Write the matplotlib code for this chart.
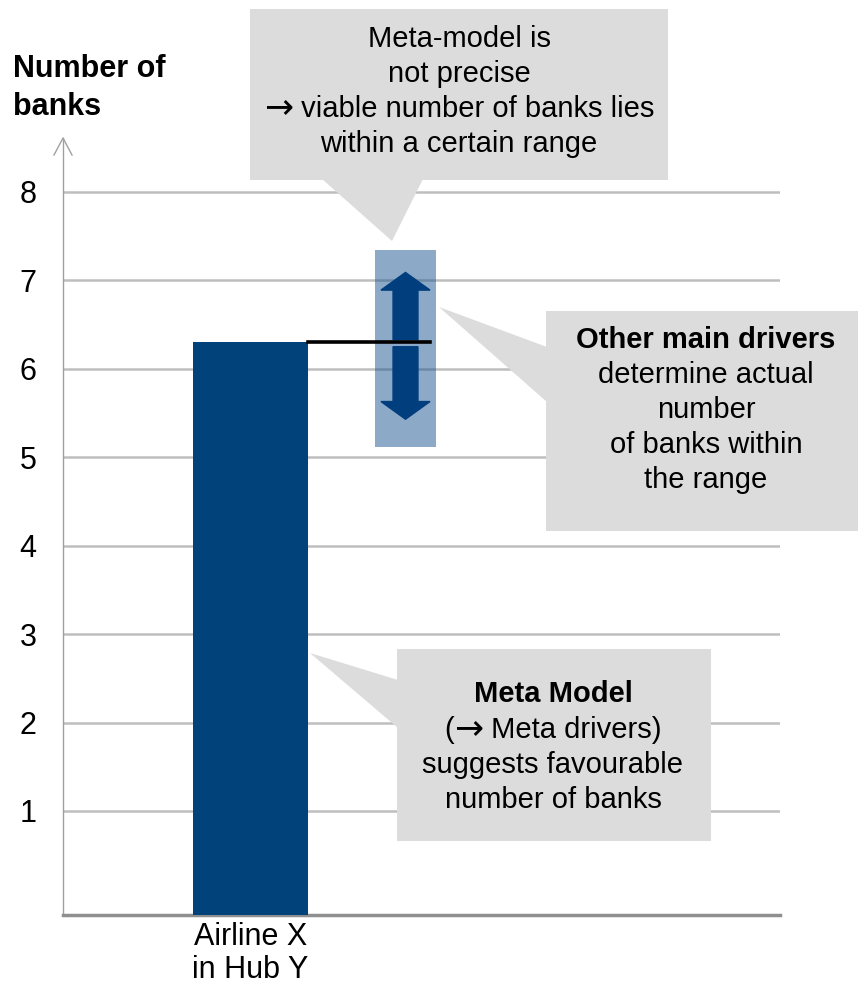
import matplotlib
matplotlib.use("Agg")
import matplotlib.pyplot as plt
from matplotlib.patches import Rectangle, Polygon, FancyArrow

plt.rcParams['font.family'] = ['Liberation Sans', 'DejaVu Sans']

# Daten
categories = ["Airline X\nin Hub Y"]
bank_values = [6.3]
range_low = 5.12
range_high = 7.34
arrow_high = 7.09
arrow_low = 5.43
y_ticks = [1, 2, 3, 4, 5, 6, 7, 8]

bar_color = '#02427A'
arrow_color = '#003E7E'
callout_color = '#DCDCDC'

W, H = 860, 990
fig = plt.figure(figsize=(W / 100, H / 100), dpi=100)
fig.patch.set_facecolor('white')

# Hauptachse (Pixel 63..780 horizontal, 138..915 vertikal)
ax = fig.add_axes([63 / W, 75 / H, 717 / W, 777 / H])
y_min, y_max = -0.176, 8.61
ax.set_xlim(-0.978, 2.763)
ax.set_ylim(y_min, y_max)

# Balken reicht bis zur Grundlinie
ax.bar(range(len(categories)), [b - y_min for b in bank_values], bottom=y_min,
       width=0.6, color=bar_color, zorder=3)

ax.set_yticks(y_ticks)
ax.set_yticklabels([str(t) for t in y_ticks], fontsize=22)
ax.set_xticks(range(len(categories)))
ax.set_xticklabels(categories, fontsize=22, linespacing=1.15)
ax.tick_params(axis='y', length=0, pad=19)
ax.tick_params(axis='x', length=0, pad=5)
ax.yaxis.grid(True, color='#BEBEBE', linewidth=1.8, zorder=0)
ax.set_axisbelow(True)

for side in ['top', 'right']:
    ax.spines[side].set_visible(False)
ax.spines['left'].set_color('#A0A0A0')
ax.spines['left'].set_linewidth(1.0)
ax.spines['bottom'].set_color('#8F8F8F')
ax.spines['bottom'].set_linewidth(2.5)

# Bandbreite
range_x = 0.809
ax.add_patch(Rectangle((range_x - 0.159, range_low), 0.318, range_high - range_low,
                       facecolor='#1A5490', alpha=0.5, edgecolor='none', zorder=4))
v = bank_values[0]
ax.add_patch(FancyArrow(range_x, v + 0.03, 0, arrow_high - v - 0.03, width=0.13,
                        head_width=0.256, head_length=0.2, length_includes_head=True,
                        color=arrow_color, zorder=5))
ax.add_patch(FancyArrow(range_x, v - 0.05, 0, arrow_low - v + 0.05, width=0.13,
                        head_width=0.256, head_length=0.2, length_includes_head=True,
                        color=arrow_color, zorder=5))
ax.plot([0.3, 0.936], [v, v], color='black', linewidth=2.6, zorder=6)

# Overlay in Pixelkoordinaten fuer Callouts
ov = fig.add_axes([0, 0, 1, 1])
ov.set_xlim(0, W)
ov.set_ylim(H, 0)
ov.axis('off')

# Pfeilspitze y-Achse
ov.plot([54, 63, 72], [155, 138, 155], color='#A0A0A0', linewidth=1.0)

ov.text(13, 77, "Number of", fontsize=22, fontweight='bold', ha='left', va='baseline')
ov.text(13, 115, "banks", fontsize=22, fontweight='bold', ha='left', va='baseline')

renderer = fig.canvas.get_renderer()


def text_line(cx, y, parts, weight='normal'):
    # parts: Liste von (text, family, size); zentriert zusammensetzen
    items = []
    for txt, fam, size in parts:
        t = ov.text(0, y, txt, fontsize=size, fontweight=weight, family=fam,
                    ha='left', va='baseline')
        w = t.get_window_extent(renderer).width
        items.append((t, w))
    total = sum(w for _, w in items)
    x = cx - total / 2
    for t, w in items:
        t.set_x(x)
        x += w


def callout(box, tri, cx, lines):
    x0, y0, x1, y1 = box
    ov.add_patch(Rectangle((x0, y0), x1 - x0, y1 - y0, facecolor=callout_color,
                           edgecolor='none'))
    ov.add_patch(Polygon(tri, closed=True, facecolor=callout_color, edgecolor='none'))
    for y, parts, weight in lines:
        text_line(cx, y, parts, weight)


LS = ['Liberation Sans', 'DejaVu Sans']
DV = ['DejaVu Sans']
ARR = ("\u2192", DV, 25)

callout((250, 9, 668, 180), [(322, 179), (423, 179), (392, 241)], 459,
        [(47, [("Meta-model is", LS, 21)], 'normal'),
         (82, [("not precise", LS, 21)], 'normal'),
         (117, [ARR, (" viable number of banks lies", LS, 21)], 'normal'),
         (152, [("within a certain range", LS, 21)], 'normal')])

callout((546, 311, 858, 531), [(547, 347), (547, 402), (439, 307)], 706,
        [(348, [("Other main drivers", LS, 21)], 'bold'),
         (383, [("determine actual", LS, 21)], 'normal'),
         (418, [("number", LS, 21)], 'normal'),
         (453, [("of banks within", LS, 21)], 'normal'),
         (488, [("the range", LS, 21)], 'normal')])

callout((397, 649, 711, 841), [(398, 680), (398, 728), (310, 653)], 553,
        [(702, [("Meta Model", LS, 21)], 'bold'),
         (738, [("(", LS, 21), ARR, (" Meta drivers)", LS, 21)], 'normal'),
         (773, [("suggests favourable", LS, 21)], 'normal'),
         (808, [("number of banks", LS, 21)], 'normal')])

fig.savefig("out.png", dpi=100, facecolor='white')
